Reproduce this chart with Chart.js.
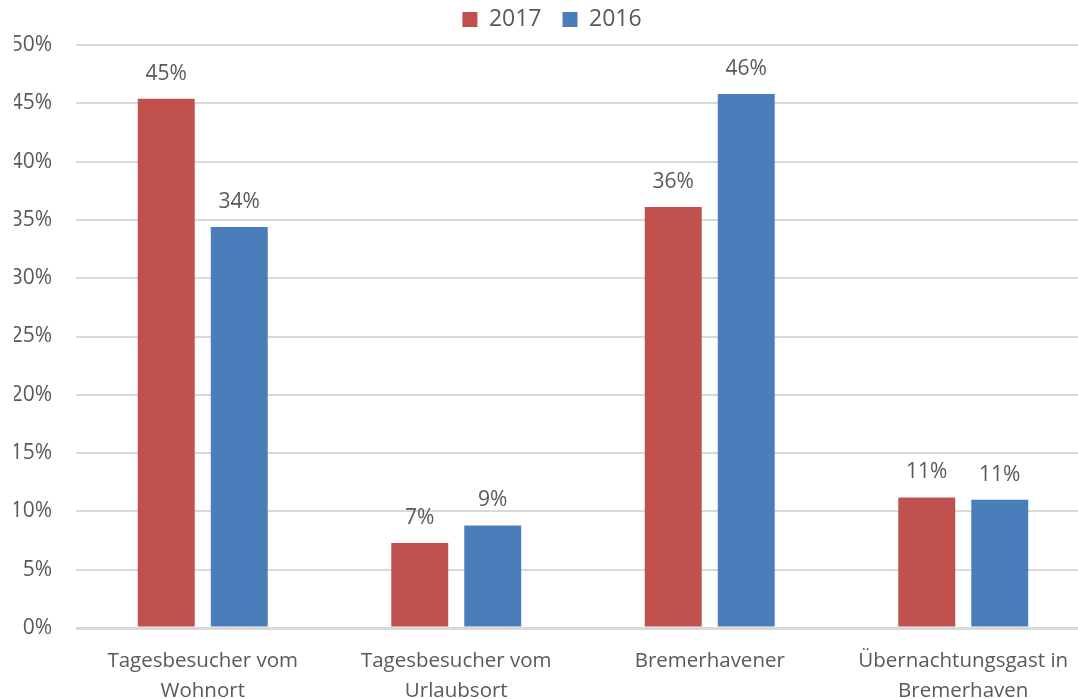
<!DOCTYPE html>
<html>
<head>
<meta charset="utf-8">
<script src="https://cdn.jsdelivr.net/npm/chart.js@4"></script>
<style>
  html, body { margin: 0; padding: 0; background: #fff; overflow: hidden; }
  #wrap { width: 1090px; height: 699px; }
</style>
</head>
<body>
<div id="wrap"><canvas id="chart"></canvas></div>
<script>
const categories = [
  ['Tagesbesucher vom', 'Wohnort'],
  ['Tagesbesucher vom', 'Urlaubsort'],
  ['Bremerhavener'],
  ['Übernachtungsgast in', 'Bremerhaven']
];
const values2017 = [45.4, 7.3, 36.1, 11.2];
const values2016 = [34.4, 8.8, 45.8, 11.0];
const labels2017 = ['45%', '7%', '36%', '11%'];
const labels2016 = ['34%', '9%', '46%', '11%'];

const FONT = "'Open Sans', sans-serif";
const GREY = '#595959';

// draws the value labels above each bar
const barLabels = {
  id: 'barLabels',
  afterDatasetsDraw(chart) {
    const ctx = chart.ctx;
    ctx.save();
    ctx.font = '21px ' + FONT;
    ctx.fillStyle = GREY;
    ctx.textAlign = 'center';
    ctx.textBaseline = 'middle';
    chart.data.datasets.forEach((ds, i) => {
      chart.getDatasetMeta(i).data.forEach((bar, j) => {
        ctx.fillText(ds.valueLabels[j], bar.x, bar.y - 25);
      });
    });
    ctx.restore();
  }
};

new Chart(document.getElementById('chart'), {
  type: 'bar',
  data: {
    labels: categories,
    datasets: [
      { label: '2017', data: values2017, valueLabels: labels2017, backgroundColor: '#C0504D',
        categoryPercentage: 0.576, barPercentage: 0.78 },
      { label: '2016', data: values2016, valueLabels: labels2016, backgroundColor: '#4A7EBB',
        categoryPercentage: 0.576, barPercentage: 0.78 }
    ]
  },
  options: {
    responsive: true,
    maintainAspectRatio: false,
    animation: false,
    layout: { padding: { left: 14, right: 0, top: -13, bottom: 0 } },
    plugins: {
      legend: {
        position: 'top',
        weight: 3000,
        labels: {
          font: { family: FONT, size: 23 },
          color: GREY,
          boxWidth: 15,
          boxHeight: 15,
          padding: 21
        }
      },
      // empty title, only used as a spacer between legend and plot
      title: {
        display: true,
        text: '',
        font: { size: 4, lineHeight: 1 },
        padding: 0
      },
      tooltip: { enabled: false }
    },
    scales: {
      x: {
        grid: { display: false },
        border: { display: false },
        ticks: {
          font: { family: FONT, size: 20.5, lineHeight: 1.46 },
          color: GREY,
          maxRotation: 0,
          autoSkip: false,
          padding: 10
        },
        afterFit: s => { s.height = 71; }
      },
      y: {
        min: 0,
        max: 50,
        grid: {
          color: '#D9D9D9',
          lineWidth: c => (c.tick && c.tick.value === 0 ? 3 : 2),
          drawTicks: false
        },
        border: { display: false },
        ticks: {
          stepSize: 5,
          font: { family: FONT, size: 21 },
          color: GREY,
          padding: 24,
          callback: v => v + '%'
        },
        afterFit: s => { s.width = 62; }
      }
    }
  },
  plugins: [barLabels]
});
</script>
</body>
</html>
